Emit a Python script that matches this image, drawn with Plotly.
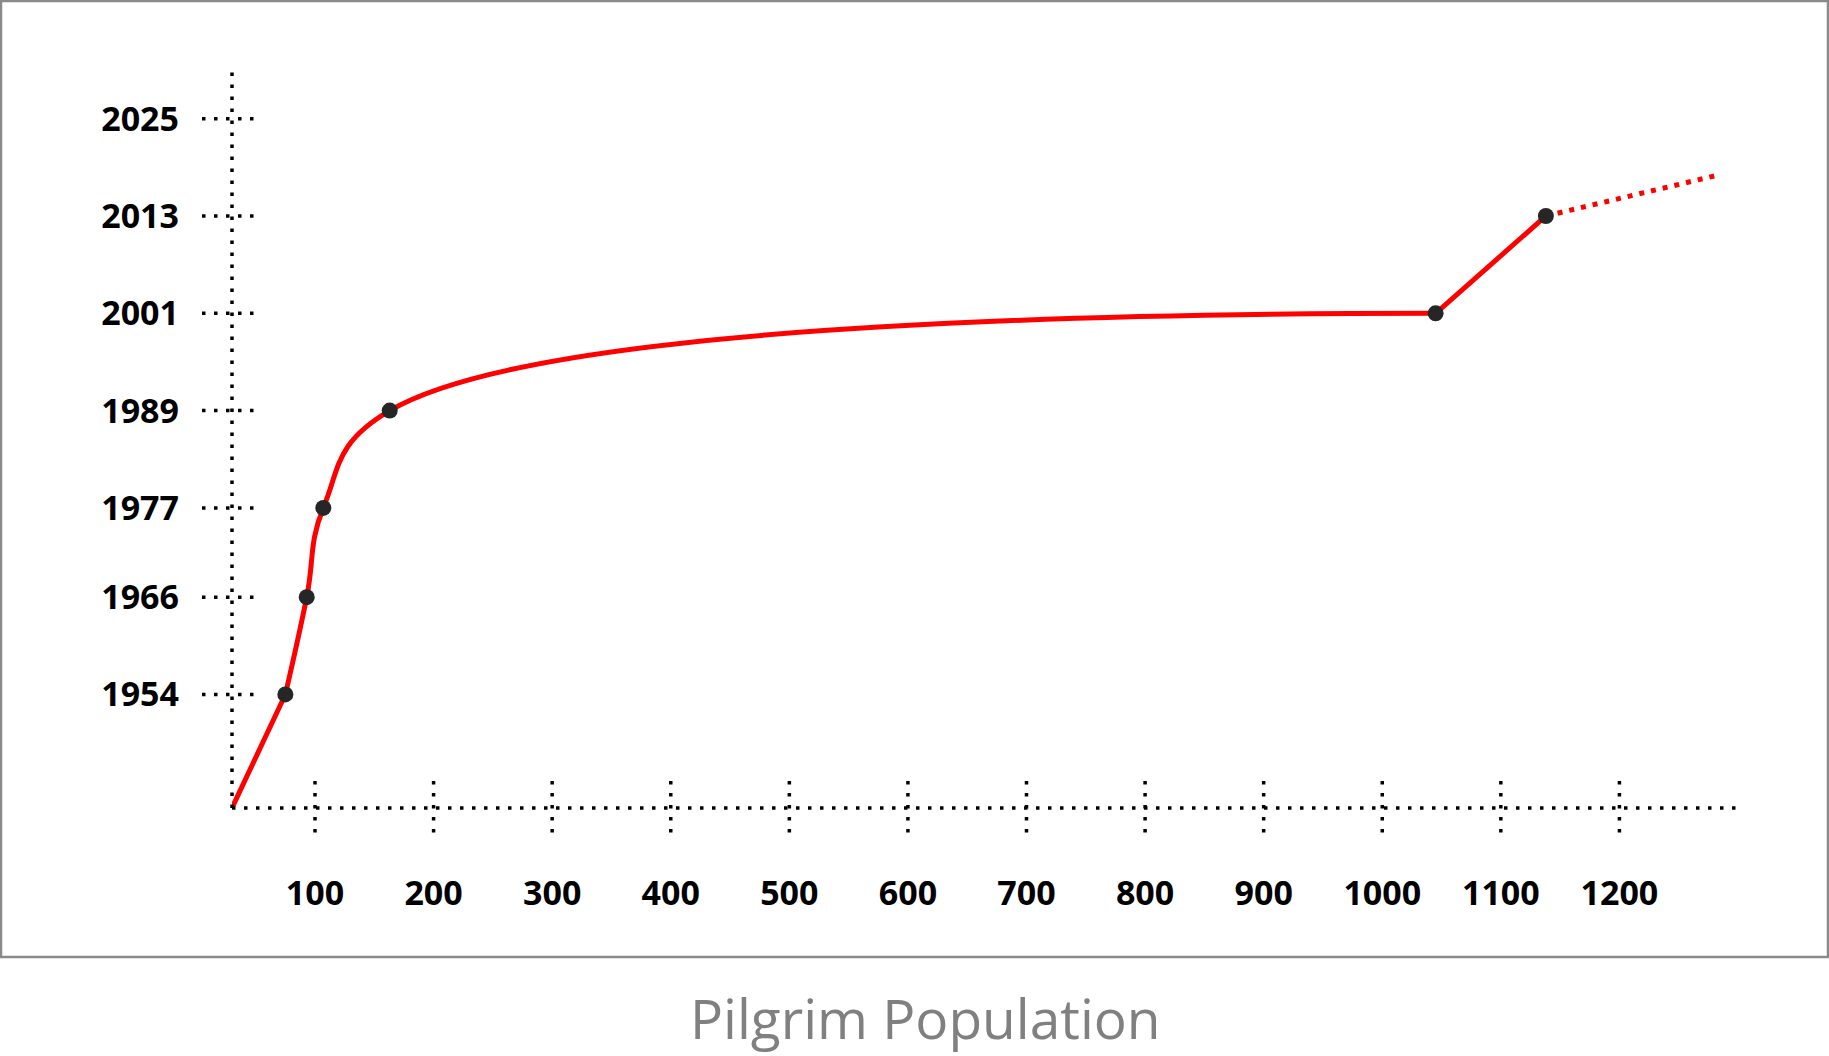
import plotly.graph_objects as go

# ---- data ----
years = [1954, 1966, 1977, 1989, 2001, 2013]
pilgrims = [75, 93, 107, 163, 1045, 1138]
start_pilgrims, start_year = 30, 1940          # line starts at the axis corner
proj_pilgrims, proj_year = 1282, 2018          # dotted projection end

x_ticks = [100, 200, 300, 400, 500, 600, 700, 800, 900, 1000, 1100, 1200]
y_ticks = [1954, 1966, 1977, 1989, 2001, 2013, 2025]

x_range = [30, 1300]
y_range = [1940, 2031]

# ---- layout geometry (pixels) ----
W, H = 1829, 1056
L, R, T, B = 232, 1738, 70, 808
PW, PH = R - L, B - T

RED = "#ff0000"
DOT = "3.5px,8.5px"

fig = go.Figure()

# straight start segment
fig.add_trace(go.Scatter(x=[start_pilgrims, pilgrims[0]], y=[start_year, years[0]],
                         mode="lines", line=dict(color=RED, width=5),
                         hoverinfo="skip", showlegend=False))
# smooth growth curve 1954 -> 2001
fig.add_trace(go.Scatter(x=pilgrims[:5], y=years[:5], mode="lines",
                         line=dict(color=RED, width=5, shape="spline", smoothing=1.2),
                         hoverinfo="skip", showlegend=False))
# straight 2001 -> 2013
fig.add_trace(go.Scatter(x=pilgrims[4:6], y=years[4:6], mode="lines",
                         line=dict(color=RED, width=5),
                         hoverinfo="skip", showlegend=False))
# dotted projection
fig.add_trace(go.Scatter(x=[pilgrims[-1], proj_pilgrims], y=[years[-1], proj_year],
                         mode="lines", line=dict(color=RED, width=5, dash="5px,7px"),
                         hoverinfo="skip", showlegend=False))
# markers
fig.add_trace(go.Scatter(x=pilgrims, y=years, mode="markers",
                         marker=dict(color="#262626", size=16),
                         showlegend=False))

shapes = []
# dotted axes
shapes.append(dict(type="line", xref="paper", yref="paper", x0=0, x1=0, y0=0, y1=1,
                   line=dict(color="black", width=3.5, dash=DOT)))
shapes.append(dict(type="line", xref="paper", yref="paper", x0=0, x1=1, y0=0, y1=0,
                   line=dict(color="black", width=3.5, dash=DOT)))
# dotted tick marks
for v in x_ticks:
    shapes.append(dict(type="line", xref="x", yref="paper", x0=v, x1=v,
                       y0=27 / PH, y1=-27 / PH,
                       line=dict(color="black", width=3.5, dash=DOT)))
for v in y_ticks:
    shapes.append(dict(type="line", xref="paper", yref="y", x0=-30 / PW, x1=26 / PW,
                       y0=v, y1=v,
                       line=dict(color="black", width=3.5, dash=DOT)))
# outer frame
shapes.append(dict(type="rect", xref="paper", yref="paper",
                   x0=(1 - L) / PW, x1=(1828 - L) / PW,
                   y0=(B - 957) / PH, y1=(B - 1) / PH,
                   line=dict(color="#8a8a8a", width=2.5), fillcolor="rgba(0,0,0,0)",
                   layer="below"))

tick_font = dict(family="Open Sans", size=34, color="black", weight="bold")

fig.update_layout(
    width=W, height=H,
    margin=dict(l=L, r=W - R, t=T, b=H - B, pad=0),
    paper_bgcolor="white", plot_bgcolor="white",
    shapes=shapes,
    xaxis=dict(range=x_range, tickvals=x_ticks, ticktext=[str(v) for v in x_ticks],
               showgrid=False, zeroline=False, showline=False, ticks="",
               tickfont=tick_font, ticklabelstandoff=62, fixedrange=True),
    yaxis=dict(range=y_range, tickvals=y_ticks, ticktext=[str(v) for v in y_ticks],
               showgrid=False, zeroline=False, showline=False, ticks="",
               tickfont=tick_font, ticklabelstandoff=52, fixedrange=True),
    annotations=[dict(text="Pilgrim Population", xref="paper", yref="paper",
                      x=(925 - L) / PW, y=(B - 1017) / PH, borderpad=0,
                      xanchor="center", yanchor="middle", showarrow=False,
                      font=dict(family="Open Sans", size=55, color="#808080"))],
)

fig.write_html("out.html", config={"displayModeBar": False},
               post_script="document.body.style.margin='0';document.body.style.padding='0';")
